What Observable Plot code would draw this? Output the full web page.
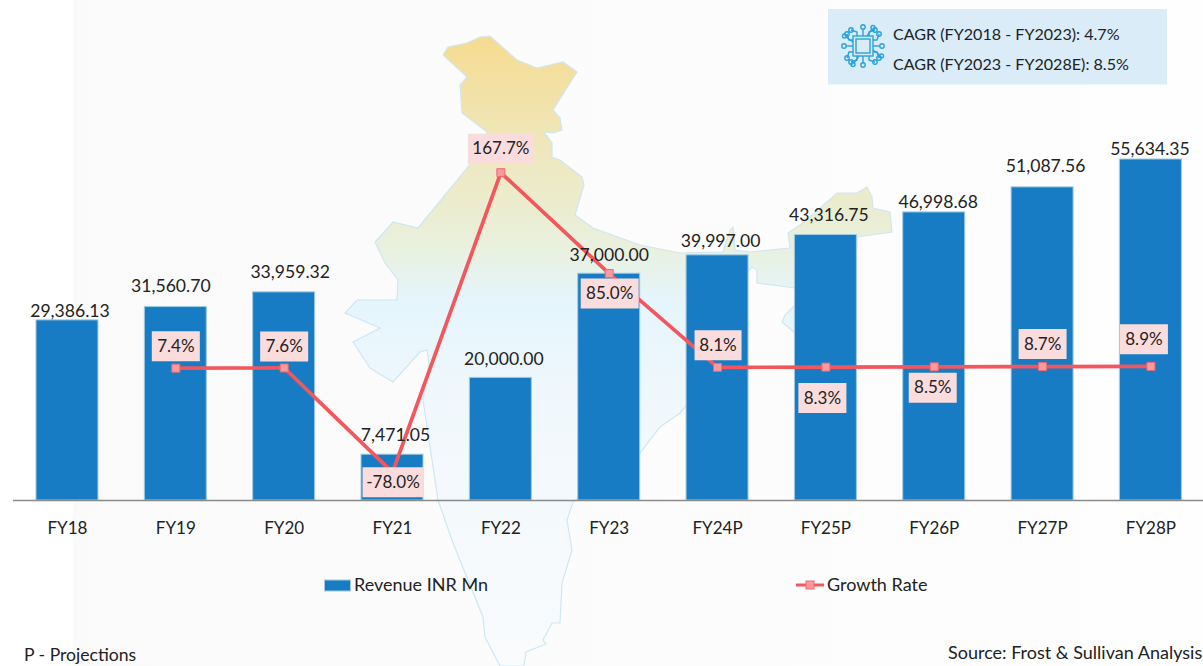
<!DOCTYPE html>
<html>
<head>
<meta charset="utf-8">
<script src="https://cdn.jsdelivr.net/npm/d3@7"></script>
<script src="https://cdn.jsdelivr.net/npm/@observablehq/plot@0.6"></script>
<style>html,body{margin:0;padding:0;background:#fff}svg{display:block}</style>
</head>
<body>
<div id="chart"></div>
<script>
const categories = ["FY18","FY19","FY20","FY21","FY22","FY23","FY24P","FY25P","FY26P","FY27P","FY28P"];
const revenue = [29386.13,31560.70,33959.32,7471.05,20000.00,37000.00,39997.00,43316.75,46998.68,51087.56,55634.35];
const growth = [null,7.4,7.6,-78.0,167.7,85.0,8.1,8.3,8.5,8.7,8.9];
const cagrLines = ["CAGR (FY2018 - FY2023): 4.7%","CAGR (FY2023 - FY2028E): 8.5%"];

// label placement (separate from the data)
const valueDx = [2.5,-5,6,3,3,0,3,3,4,3,-1];
const valueDy = [-9,-21,-20,-19,-19,-18,-14,-20,-10,-21,-10];
const growthDx = [0,0,0,0.5,0,0.5,0.5,-3.5,-1.5,0,-7];
const growthDy = [0,-22,-21.5,10,-24,20,-22,31,21,-22.5,-27];
const growthBoxW = [0,48,48,61,66,58,47,48,48,48,48];

const rows = categories.map((c,i)=>({c,i,rev:revenue[i],g:growth[i]}));
const grows = rows.filter(d=>d.g!=null);
// secondary axis: growth % expressed on the revenue axis
const growthAxis = d3.scaleLinear([0,100],[20114,40014]);
const fontFamily = "Lato, 'Open Sans', sans-serif";
const ink = "#222";
const mapPts = [[443,55],[448,47],[467,43],[480,37],[490,36],[500,45],[517,60],[537,68],[563,62],[577,72],[553,110],[560,118],[562,130],[553,133],[544,132],[552,143],[552,157],[560,160],[582,177],[584,185],[575,215],[593,228],[640,245],[680,253],[723,252],[730,230],[733,227],[735,250],[750,252],[790,248],[788,233],[803,223],[837,193],[857,193],[867,187],[872,197],[873,208],[890,212],[892,232],[857,237],[857,248],[836,285],[795,288],[757,283],[757,270],[752,267],[748,272],[735,300],[700,390],[680,413],[660,427],[640,453],[573,502],[567,520],[572,550],[562,583],[560,623],[552,623],[543,640],[546,644],[526,652],[524,666],[500,666],[485,637],[483,617],[453,543],[438,500],[423,400],[429,363],[427,350],[420,352],[393,382],[370,368],[353,342],[380,328],[345,313],[357,300],[397,300],[398,280],[385,263],[375,242],[393,222],[418,228],[468,167],[487,132],[462,113],[460,85],[467,77]];
const patchPts = [[800,305],[793,307],[785,315],[782,322],[795,333],[800,335]];

function backdrop(){
  const g = d3.create("svg:g");
  const defs = g.append("defs");
  const bg = defs.append("linearGradient").attr("id","bgGrad");
  bg.append("stop").attr("offset","0").attr("stop-color","#fafafa");
  bg.append("stop").attr("offset","1").attr("stop-color","#fefefe");
  const lg = defs.append("linearGradient").attr("id","mapGrad").attr("gradientUnits","userSpaceOnUse")
    .attr("x1",0).attr("x2",0).attr("y1",36).attr("y2",666);
  [[0,"#f6db90"],[0.16,"#efe6b8"],[0.33,"#e9f0dc"],[0.42,"#e5f5fc"],[0.6,"#f1f8fc"],[1,"#f9fbfc"]]
    .forEach(([o,c])=>lg.append("stop").attr("offset",o).attr("stop-color",c));
  g.append("rect").attr("x",73).attr("y",0).attr("width",1130).attr("height",666).attr("fill","url(#bgGrad)");
  const line = d3.line().curve(d3.curveLinearClosed);
  [mapPts,patchPts].forEach(p=>g.append("path").attr("d",line(p))
    .attr("fill","url(#mapGrad)").attr("stroke","#cfe7f1").attr("stroke-width",1.2));
  // CAGR box
  g.append("rect").attr("x",828).attr("y",9).attr("width",339).attr("height",75.5).attr("fill","#d9ecf8");
  // chip icon
  const chip = g.append("g").attr("transform","translate(863,46)").attr("fill","none").attr("stroke","#2ba3dc").attr("stroke-width",1.4);
  chip.append("rect").attr("x",-10).attr("y",-10).attr("width",20).attr("height",20);
  chip.append("rect").attr("x",-7).attr("y",-7).attr("width",14).attr("height",14);
  for (let a=0;a<360;a+=90){
    const s = chip.append("g").attr("transform",`rotate(${a})`);
    [[0,-10,0,-17],[-6,-10,-6,-14,-12,-16],[6,-10,6,-14,12,-16]].forEach(t=>{
      let d="M"+t[0]+","+t[1]; for(let k=2;k<t.length;k+=2) d+="L"+t[k]+","+t[k+1];
      s.append("path").attr("d",d);
      s.append("circle").attr("cx",t[t.length-2]).attr("cy",t[t.length-1]-(t.length>4?0:2)).attr("r",2.2);
    });
    s.append("path").attr("d","M-10,-4L-17,-9");
    s.append("circle").attr("cx",-18.5).attr("cy",-10).attr("r",2);
  }
  return g.node();
}
function overlayText(){
  const g = d3.create("svg:g").attr("font-family",fontFamily).attr("fill",ink).attr("text-anchor","start");
  const t = (x,y,s,size)=>g.append("text").attr("x",x).attr("y",y).attr("dy","0.35em").attr("font-size",size).text(s);
  t(893,34,cagrLines[0],16.1); t(893,64,cagrLines[1],16.1);
  g.append("rect").attr("x",324.5).attr("y",580).attr("width",26).attr("height",11).attr("fill","#177cc3").attr("stroke","#a4cbe2");
  t(354,585,"Revenue INR Mn",18);
  g.append("line").attr("x1",796).attr("x2",824).attr("y1",585).attr("y2",585).attr("stroke","#f4565e").attr("stroke-width",3);
  g.append("rect").attr("x",806).attr("y",581).attr("width",8).attr("height",8).attr("fill","#f99aa0").attr("stroke","#f4676e");
  t(827,585,"Growth Rate",18);
  t(24,655,"P - Projections",17.6);
  t(948,653,"Source: Frost & Sullivan Analysis",18);
  return g.node();
}

const boxSymbol = (w,h)=>({draw(ctx){ctx.rect(-w/2,-h/2,w,h);}});

const chart = Plot.plot({
  width:1203, height:666,
  marginTop:159, marginBottom:166, marginLeft:13, marginRight:0,
  style:{background:"transparent",fontFamily,color:ink},
  x:{domain:categories,range:[12.8,1204.6],round:false,paddingInner:0.428,paddingOuter:0.214,align:0.5},
  y:{domain:[0,55634.35],axis:null},
  marks:[
    backdrop,
    Plot.barY(rows,{x:"c",y:"rev",fill:"#177cc3",stroke:"#9fc9e1",strokeWidth:1}),
    Plot.ruleY([0],{stroke:"#8a8a8a",strokeWidth:1.5}),
    Plot.axisX({anchor:"bottom",tickSize:0,tickPadding:21,fontSize:17,label:null,fill:ink}),
    Plot.line(grows,{x:"c",y:d=>growthAxis(d.g),stroke:"#f4565e",strokeWidth:3.7}),
    Plot.dot(grows,{x:"c",y:d=>growthAxis(d.g),symbol:"square",r:4.5,fill:"#f99aa0",stroke:"#f4676e",strokeWidth:1}),
    ...rows.map(d=>Plot.text([d],{x:"c",y:"rev",text:r=>d3.format(",.2f")(r.rev),fontSize:17.6,fill:ink,dx:valueDx[d.i],dy:valueDy[d.i]})),
    ...grows.flatMap(d=>[
      Plot.dot([d],{x:"c",y:r=>growthAxis(r.g),symbol:boxSymbol(growthBoxW[d.i],30),fill:"#fbdcdc",dx:growthDx[d.i],dy:growthDy[d.i]}),
      Plot.text([d],{x:"c",y:r=>growthAxis(r.g),text:r=>r.g.toFixed(1)+"%",fontSize:17,fill:ink,dx:growthDx[d.i],dy:growthDy[d.i]})
    ]),
    overlayText
  ]
});
document.getElementById("chart").append(chart);
</script>
</body>
</html>
